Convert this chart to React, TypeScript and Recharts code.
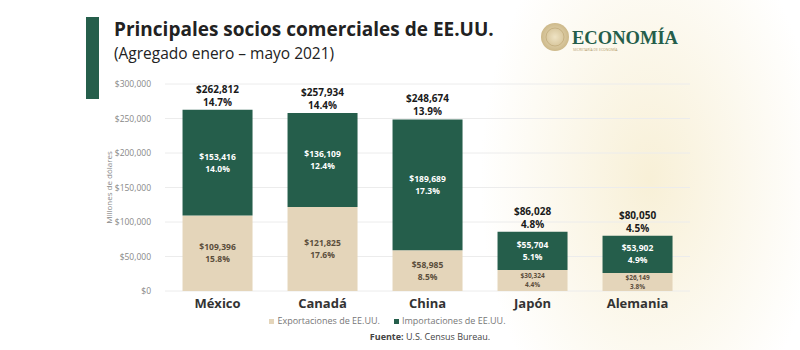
import React from "react";
import { BarChart, Bar, XAxis, YAxis, CartesianGrid, Legend, LabelList } from "recharts";

const categories = ["México", "Canadá", "China", "Japón", "Alemania"];
const exportaciones = [109396, 121825, 58985, 30324, 26149];
const importaciones = [153416, 136109, 189689, 55704, 53902];
const totales = [262812, 257934, 248674, 86028, 80050];
const pctExportaciones = ["15.8%", "17.6%", "8.5%", "4.4%", "3.8%"];
const pctImportaciones = ["14.0%", "12.4%", "17.3%", "5.1%", "4.9%"];
const pctTotales = ["14.7%", "14.4%", "13.9%", "4.8%", "4.5%"];
const yTicks = [0, 50000, 100000, 150000, 200000, 250000, 300000];

const GREEN = "#255e4b";
const BEIGE = "#e4d5ba";
const FONT = "'Open Sans', 'DejaVu Sans', sans-serif";

const money = (v: number) => "$" + v.toLocaleString("en-US");

const data = categories.map((c, i) => ({
  name: c,
  exp: exportaciones[i],
  imp: importaciones[i],
  expLabel: money(exportaciones[i]) + "|" + pctExportaciones[i],
  impLabel: money(importaciones[i]) + "|" + pctImportaciones[i],
  totLabel: money(totales[i]) + "|" + pctTotales[i],
}));

// two-line label centred in a bar segment
const InsideLabel = (color: string) => (props: any) => {
  const { x, y, width, height, value } = props;
  const [a, b] = String(value).split("|");
  const small = height < 30;
  const fs = small ? 6.5 : 8.5;
  const cx = x + width / 2;
  const cy = y + height / 2;
  const gap = small ? 9 : 12;
  return (
    <g fontSize={fs} fontWeight={700} fill={color} fontFamily={FONT} textAnchor="middle">
      <text x={cx} y={cy - gap / 2 + fs * 0.35}>{a}</text>
      <text x={cx} y={cy + gap / 2 + fs * 0.35}>{b}</text>
    </g>
  );
};

const TotalLabel = (props: any) => {
  const { x, y, width, value } = props;
  const [a, b] = String(value).split("|");
  const cx = x + width / 2;
  return (
    <g fontSize={10} fontWeight={700} fill="#1a1a1a" fontFamily={FONT} textAnchor="middle">
      <text x={cx} y={y - 17}>{a}</text>
      <text x={cx} y={y - 4}>{b}</text>
    </g>
  );
};

const LegendContent = () => (
  <div style={{ display: "flex", justifyContent: "center", gap: 14, fontSize: 9, color: "#777", fontFamily: FONT, lineHeight: "12px" }}>
    <span style={{ display: "flex", alignItems: "center", gap: 3 }}>
      <span style={{ width: 5, height: 5, background: BEIGE, display: "inline-block" }} />
      Exportaciones de EE.UU.
    </span>
    <span style={{ display: "flex", alignItems: "center", gap: 3 }}>
      <span style={{ width: 5, height: 5, background: GREEN, display: "inline-block" }} />
      Importaciones de EE.UU.
    </span>
  </div>
);

export default function App() {
  return (
    <div
      style={{
        position: "absolute",
        left: 0,
        top: 0,
        width: 800,
        height: 350,
        background:
          "radial-gradient(ellipse 170px 280px at 650px 180px, rgba(246,236,205,0.8), rgba(255,255,255,0) 100%), #fff",
        fontFamily: FONT,
        overflow: "hidden",
      }}
    >
      <div style={{ position: "absolute", left: 86, top: 17, width: 13, height: 82, background: GREEN }} />
      <div style={{ position: "absolute", left: 114, top: 19, fontSize: 19, lineHeight: "20px", fontWeight: 700, color: "#222", whiteSpace: "nowrap" }}>
        Principales socios comerciales de EE.UU.
      </div>
      <div style={{ position: "absolute", left: 114, top: 44, fontSize: 15.5, lineHeight: "18px", color: "#222", whiteSpace: "nowrap" }}>
        (Agregado enero – mayo 2021)
      </div>
      <svg style={{ position: "absolute", left: 538, top: 20 }} width={160} height={36}>
        <defs>
          <radialGradient id="seal" cx="50%" cy="50%" r="50%">
            <stop offset="0%" stopColor="#efe3c4" />
            <stop offset="100%" stopColor="#cdb98a" />
          </radialGradient>
        </defs>
        <circle cx={17} cy={17} r={14} fill="url(#seal)" />
        <circle cx={17} cy={17} r={9} fill="none" stroke="#b9a26f" strokeWidth={1} opacity={0.6} />
        <text x={34} y={24} fontSize={19} textLength={106} lengthAdjust="spacingAndGlyphs" fill={GREEN} fontFamily="'Liberation Serif', serif" fontWeight={700}>
          ECONOMÍA
        </text>
        <text x={35} y={31} fontSize={3.5} fill="#b39b6a" fontFamily={FONT}>
          SECRETARÍA DE ECONOMÍA
        </text>
      </svg>
      <div style={{ position: "absolute", left: 0, top: 331, width: 860, textAlign: "center", fontSize: 9, lineHeight: "11px", color: "#444", whiteSpace: "nowrap" }}>
        <b>Fuente:</b> U.S. Census Bureau.
      </div>
      <div style={{ position: "absolute", left: 0, top: 0 }}>
        <BarChart
          width={800}
          height={350}
          data={data}
          margin={{ top: 84, right: 110, bottom: 17, left: 85 }}
          barCategoryGap="16.7%"
        >
          <CartesianGrid vertical={false} stroke="#ececec" />
          <XAxis
            dataKey="name"
            axisLine={false}
            tickLine={false}
            tickMargin={2}
            tick={{ fontSize: 13, fontWeight: 700, fill: "#333", fontFamily: FONT }}
          />
          <YAxis
            width={80}
            domain={[0, 300000]}
            ticks={yTicks}
            axisLine={false}
            tickLine={false}
            tickMargin={8}
            tickFormatter={money}
            tick={{ fontSize: 8.5, fill: "#888", fontFamily: FONT }}
            label={{
              value: "Millones de dólares",
              angle: -90,
              position: "insideLeft",
              offset: 24,
              style: { fontSize: 8, fill: "#888", textAnchor: "middle", fontFamily: FONT },
            }}
          />
          <Legend verticalAlign="bottom" content={LegendContent} wrapperStyle={{ bottom: 23 }} />
          <Bar dataKey="exp" stackId="a" fill={BEIGE} name="Exportaciones de EE.UU." isAnimationActive={false}>
            <LabelList dataKey="expLabel" content={InsideLabel("#5b4e3c")} />
          </Bar>
          <Bar dataKey="imp" stackId="a" fill={GREEN} name="Importaciones de EE.UU." isAnimationActive={false}>
            <LabelList dataKey="impLabel" content={InsideLabel("#ffffff")} />
            <LabelList dataKey="totLabel" content={TotalLabel} />
          </Bar>
        </BarChart>
      </div>
    </div>
  );
}
